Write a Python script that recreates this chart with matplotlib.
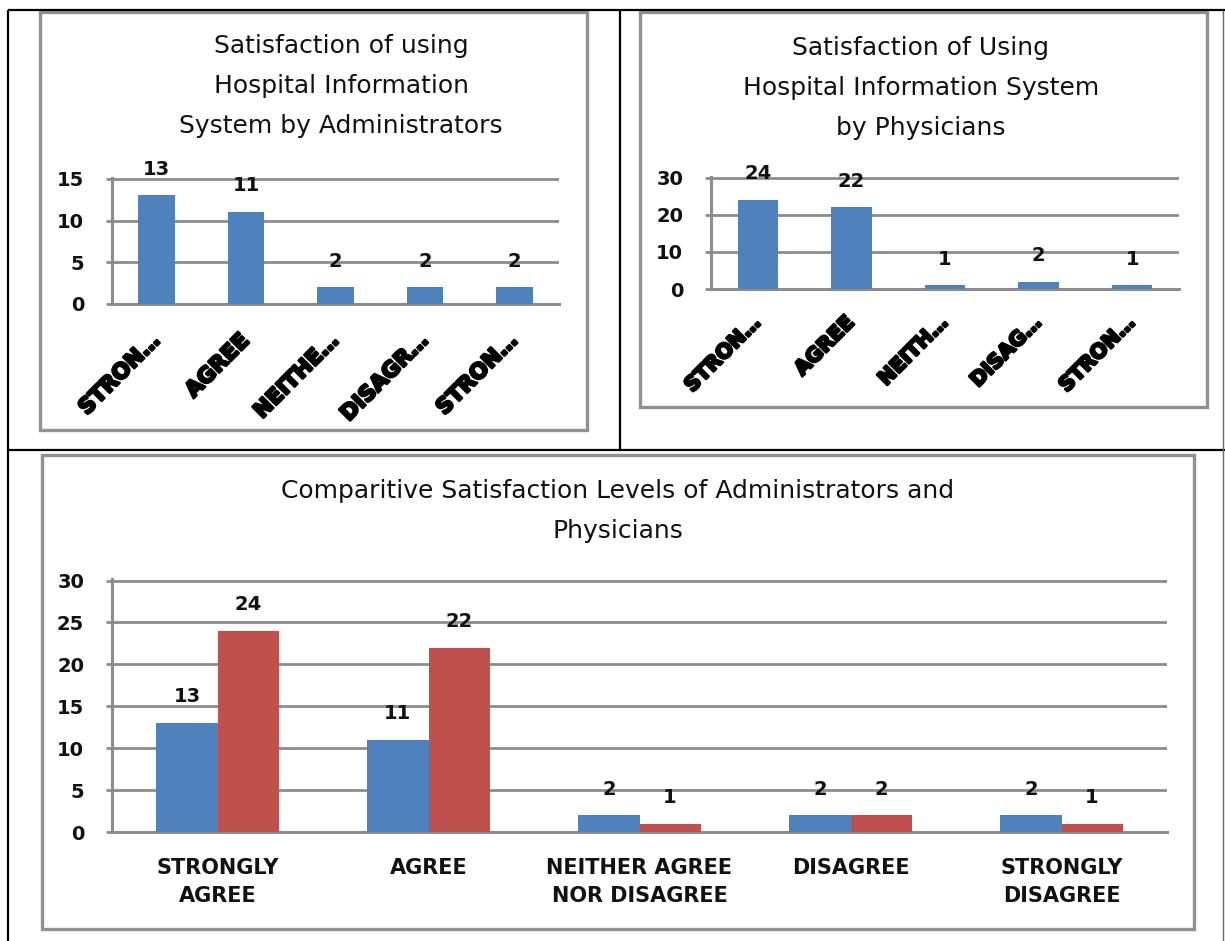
import matplotlib
matplotlib.use("Agg")
import matplotlib.pyplot as plt
import matplotlib.patheffects as pe
from matplotlib.lines import Line2D
from matplotlib.patches import Rectangle
from matplotlib.transforms import ScaledTranslation
import numpy as np

# Survey responses (counts per answer)
categories = ["STRONGLY\nAGREE", "AGREE", "NEITHER AGREE\nNOR DISAGREE",
              "DISAGREE", "STRONGLY\nDISAGREE"]
admin_short = ["STRON\u2026", "AGREE", "NEITHE\u2026", "DISAGR\u2026", "STRON\u2026"]
phys_short = ["STRON\u2026", "AGREE", "NEITH\u2026", "DISAG\u2026", "STRON\u2026"]
admin_counts = [13, 11, 2, 2, 2]
phys_counts = [24, 22, 1, 2, 1]

title_admin = "Satisfaction of using\nHospital Information\nSystem by Administrators"
title_phys = "Satisfaction of Using\nHospital Information System\nby Physicians"
title_comp = "Comparitive Satisfaction Levels of Administrators and\nPhysicians"

BLUE = "#4F81BD"
RED = "#C0504D"
GRID = "#8C8C8C"
FRAME = "#919191"
TEXT = "#111111"

W, H = 1225, 941
fig = plt.figure(figsize=(W / 100, H / 100), dpi=100)
plt.rcParams["font.family"] = ["DejaVu Sans"]


def fx(px):
    return px / W


def fy(py):
    return 1 - py / H


def axes_px(x0, y0, x1, y1):
    return fig.add_axes([fx(x0), fy(y1), (x1 - x0) / W, (y1 - y0) / H])


def line(xs, ys, color, lw):
    fig.add_artist(Line2D([fx(x) for x in xs], [fy(y) for y in ys],
                          color=color, lw=lw, transform=fig.transFigure,
                          solid_capstyle="butt"))


def box(x0, y0, x1, y1):
    fig.add_artist(Rectangle((fx(x0), fy(y1)), (x1 - x0) / W, (y1 - y0) / H,
                             fill=False, edgecolor=FRAME, lw=2.4,
                             transform=fig.transFigure))


# page layout lines
line([8, 1225], [10, 10], "black", 1.6)
line([8, 8], [10, 941], "black", 1.6)
line([620, 620], [10, 450], "black", 1.6)
line([8, 1225], [450, 450], "black", 1.6)
line([1223, 1223], [10, 941], "#6a6a6a", 1.0)

# chart frames
box(40, 12, 587, 430)
box(640, 12, 1207, 407)
box(42, 455, 1194, 929)


def style(ax, ymax, step):
    ax.set_xlim(-0.5, 4.5)
    ax.set_ylim(0, ymax * 1.006)
    ax.set_yticks(np.arange(0, ymax + 1, step))
    ax.yaxis.grid(True, color=GRID, lw=2.0)
    ax.set_axisbelow(True)
    ax.patch.set_visible(False)
    for s in ["top", "right"]:
        ax.spines[s].set_visible(False)
    for s in ["left", "bottom"]:
        ax.spines[s].set_color(GRID)
        ax.spines[s].set_linewidth(2.2)
    ax.tick_params(axis="y", length=4, width=2.0, color=GRID, pad=16,
                   labelsize=14, labelcolor=TEXT)
    ax.tick_params(axis="x", length=0, labelcolor=TEXT)
    for lab in ax.get_yticklabels():
        lab.set_fontweight("bold")


heavy = [pe.withStroke(linewidth=1.8, foreground="black")]


def rotated_labels(ax, labels, size, dx, pad):
    ax.set_xticks(range(len(labels)))
    ax.set_xticklabels(labels, rotation=45, ha="right", va="center",
                       rotation_mode="anchor", fontsize=size,
                       fontweight="bold", color="black")
    off = ScaledTranslation(dx / 100, 0, fig.dpi_scale_trans)
    for lab in ax.get_xticklabels():
        lab.set_path_effects(heavy)
        lab.set_transform(lab.get_transform() + off)
    ax.tick_params(axis="x", pad=pad)


# Administrators
ax1 = axes_px(112, 178, 559, 304)
b1 = ax1.bar(range(5), admin_counts, width=0.41, color=BLUE, zorder=3)
style(ax1, 15, 5)
ax1.bar_label(b1, padding=12, fontsize=14, fontweight="bold", color=TEXT)
rotated_labels(ax1, admin_short, 15.5, 16, 24)
fig.text(fx(341), fy(86), title_admin, ha="center", va="center",
         fontsize=18, color=TEXT, linespacing=1.82)

# Physicians
ax2 = axes_px(711, 177, 1179, 289)
b2 = ax2.bar(range(5), phys_counts, width=0.43, color=BLUE, zorder=3)
style(ax2, 30, 10)
ax2.bar_label(b2, padding=12, fontsize=14, fontweight="bold", color=TEXT)
rotated_labels(ax2, phys_short, 14.5, 14, 22)
fig.text(fx(921), fy(88), title_phys, ha="center", va="center",
         fontsize=18, color=TEXT, linespacing=1.82)

# Comparison
ax3 = axes_px(112, 579, 1167, 832)
x = np.arange(len(categories))
bw = 0.29
b3a = ax3.bar(x - bw / 2, admin_counts, width=bw, color=BLUE, zorder=3)
b3b = ax3.bar(x + bw / 2, phys_counts, width=bw, color=RED, zorder=3)
style(ax3, 30, 5)
ax3.bar_label(b3a, padding=12, fontsize=14, fontweight="bold", color=TEXT)
ax3.bar_label(b3b, padding=12, fontsize=14, fontweight="bold", color=TEXT)
ax3.set_xticks(x)
ax3.set_xticklabels(categories, fontsize=15, fontweight="bold",
                    linespacing=1.45, va="top")
ax3.tick_params(axis="x", pad=19)
fig.text(fx(618), fy(511), title_comp, ha="center", va="center",
         fontsize=18, color=TEXT, linespacing=1.82)

fig.savefig("out.png", dpi=100, facecolor="white")
